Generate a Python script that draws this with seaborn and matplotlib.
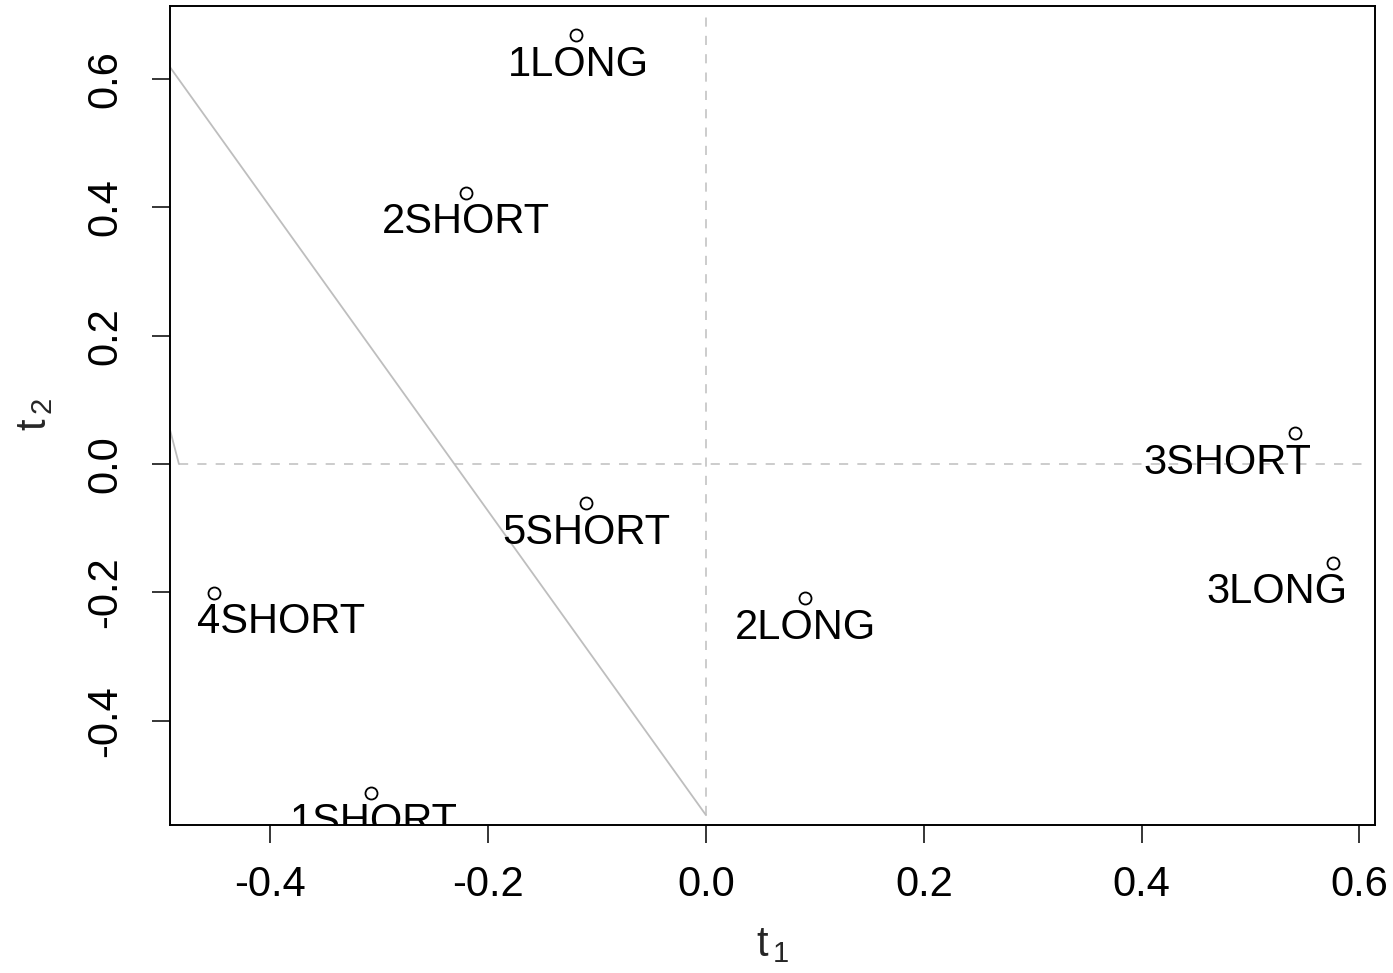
import numpy as np
import pandas as pd
import matplotlib
matplotlib.use("Agg")
import matplotlib.pyplot as plt
import seaborn as sns

# ---- data ----
labels = ["1LONG", "2SHORT", "3SHORT", "3LONG", "5SHORT", "4SHORT", "2LONG", "1SHORT"]
t1 = [-0.119, -0.220, 0.541, 0.576, -0.110, -0.452, 0.091, -0.308]
t2 = [0.668, 0.422, 0.048, -0.154, -0.061, -0.201, -0.209, -0.512]
label_x = [-0.117, -0.220, 0.479, 0.524, -0.110, -0.390, 0.091, -0.305]
label_y = [0.605, 0.360, -0.015, -0.217, -0.124, -0.264, -0.272, -0.575]
curve_x = [0.0, -0.629, -0.484]
curve_y = [-0.547, 0.942, 0.0]
vline_y = [-0.547, 0.699]
hline_x = [-0.484, 0.605]
xticks = [-0.4, -0.2, 0.0, 0.2, 0.4, 0.6]
yticks = [-0.4, -0.2, 0.0, 0.2, 0.4, 0.6]

df = pd.DataFrame({"t1": t1, "t2": t2, "label": labels})

sns.set_theme(style="white")
plt.rcParams["font.family"] = ["Liberation Sans", "DejaVu Sans"]
plt.rcParams["axes.unicode_minus"] = False
plt.rcParams["mathtext.fontset"] = "custom"
plt.rcParams["mathtext.rm"] = "Liberation Sans"
plt.rcParams["mathtext.it"] = "Liberation Sans"

W, H = 1393, 973
fig = plt.figure(figsize=(W / 100, H / 100), dpi=100)
L, R, T, B = 170, 1375, 6, 825
ax = fig.add_axes([L / W, 1 - B / H, (R - L) / W, (B - T) / H])

FS = 30
grey = "#BEBEBE"

# reference lines
ax.plot([0, 0], vline_y, color=grey, lw=1.1, ls=(0, (6, 6)), zorder=1)
ax.plot(hline_x, [0, 0], color=grey, lw=1.1, ls=(0, (6, 6)), zorder=1)
ax.plot(curve_x, curve_y, color=grey, lw=1.3, zorder=1)

sns.scatterplot(data=df, x="t1", y="t2", ax=ax, marker="o", s=75,
                facecolor="white", edgecolor="black", linewidth=1.3, zorder=3)

for lab, lx, ly in zip(labels, label_x, label_y):
    ax.text(lx, ly, lab, ha="center", va="baseline", fontsize=FS,
            color="black", clip_on=True, zorder=4)

ax.set_xlim(-0.4922, 0.6143)
ax.set_ylim(-0.5623, 0.7134)
ax.set_xticks(xticks)
ax.set_xticklabels([f"{v:.1f}" for v in xticks])
ax.set_yticks(yticks)
ax.set_yticklabels([f"{v:.1f}" for v in yticks], rotation=90, va="center")
ax.tick_params(axis="both", which="major", direction="out", length=13,
               width=1.1, color="black", labelsize=FS, labelcolor="black",
               bottom=True, left=True)
ax.tick_params(axis="x", pad=16)
ax.tick_params(axis="y", pad=19)

for sp in ax.spines.values():
    sp.set_visible(True)
    sp.set_color("black")
    sp.set_linewidth(1.4)

ax.set_xlabel(r"$\mathrm{t}_{\,\mathrm{1}}$", fontsize=FS)
ax.set_ylabel(r"$\mathrm{t}_{\,\mathrm{2}}$", fontsize=FS)
ax.xaxis.set_label_coords((772 - L) / (R - L), (B - 945) / (B - T))
ax.yaxis.set_label_coords((35 - L) / (R - L), (B - 415) / (B - T))
ax.xaxis.label.set_va("center")
ax.yaxis.label.set_va("center")
ax.grid(False)

fig.savefig("out.png", dpi=100)
